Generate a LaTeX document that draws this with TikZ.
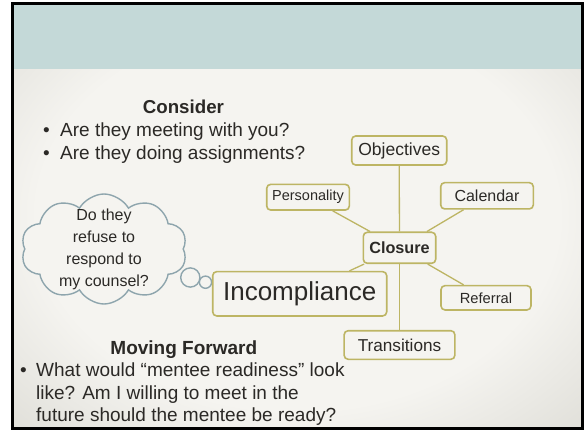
\documentclass[tikz,border=0pt]{standalone}
\usepackage{fontspec}
\usepackage{xcolor}
\usepackage{tikz}
\setmainfont{Liberation Sans}
\usetikzlibrary{shapes.symbols}

\definecolor{headc}{HTML}{C4D9D8}
\definecolor{bodyc}{HTML}{F5F4F0}
\definecolor{edgec}{HTML}{E0DFD9}
\definecolor{olivec}{HTML}{BDB564}
\definecolor{cloudc}{HTML}{8EA5AD}
\definecolor{ink}{HTML}{2B2926}
\pgfdeclareradialshading{vignette}{\pgfpoint{0bp}{0bp}}{color(0bp)=(bodyc); color(23bp)=(bodyc); color(36bp)=(edgec); color(50bp)=(edgec)}

\begin{document}
\begin{tikzpicture}[x=1pt,y=-1pt,
        box/.style={draw=olivec, line width=1.6pt, rounded corners=4pt, fill=bodyc, text=ink, inner sep=0pt},
        link/.style={draw=olivec, line width=1.3pt},
        txt/.style={inner sep=0pt, text=ink, anchor=base west, font=\fontsize{19}{22}\selectfont},
        bubble/.style={draw=cloudc, line width=1.4pt}]
            \useasboundingbox (0,0) rectangle (586,430);
            % slide background, title bar and frame
            \path[shading=vignette] (14,4.7) rectangle (581,427);
            \fill[headc] (14,4.7) rectangle (581,68.7);
            \draw[line width=3pt] (12.5,3.2) rectangle (582.8,428.5);

            % text on the left
            \node[txt, anchor=base, font=\bfseries\fontsize{18.7}{22}\selectfont] (consider) at (183.4,114) {Consider};
            \node[txt] (dot1) at (43,136.7) {\textbullet};
            \node[txt] (ask1) at (60,136.7) {Are they meeting with you?};
            \node[txt] (dot2) at (43,159.3) {\textbullet};
            \node[txt] (ask2) at (60,159.3) {Are they doing assignments?};
            \node[txt, anchor=base, font=\bfseries\fontsize{19}{22}\selectfont] (forward) at (183.8,354) {Moving Forward};
            \node[txt] (dot3) at (20,376.7) {\textbullet};
            \node[txt] (line1) at (36,376.7) {What would “mentee readiness” look};
            \node[txt] (line2) at (36,399.5) {like? Am I willing to meet in the};
            \node[txt] (line3) at (36,421.7) {future should the mentee be ready?};

            % thought cloud
            \node[cloud, cloud puffs=10, cloud puff arc=120, aspect=1.5, bubble, fill=bodyc,
                  minimum width=166pt, minimum height=110pt, inner sep=0pt] (doubt) at (104,249) {};
            \node[inner sep=0pt, align=center, text=ink, font=\fontsize{16}{22}\selectfont] (doubttext) at (doubt.center) {Do they\\refuse to\\respond to\\my counsel?};
            \draw[bubble] (190.3,277.5) circle (9.6);
            \draw[bubble] (205.5,282.2) circle (6.1);
            \draw[bubble] (217,284.5) circle (3);

            % boxes round closure
            \node[box, minimum width=72.4pt, minimum height=31pt, font=\bfseries\fontsize{16.2}{19}\selectfont] (closure) at (399.5,247.8) {Closure};
            \node[box, minimum width=95pt, minimum height=29pt, font=\fontsize{17.5}{20}\selectfont] (objectives) at (399.2,150.5) {Objectives};
            \node[box, minimum width=82.6pt, minimum height=25.7pt, font=\fontsize{14.5}{17}\selectfont] (personality) at (308,197.2) {Personality};
            \node[box, minimum width=92.6pt, minimum height=26.3pt, font=\fontsize{16}{19}\selectfont] (calendar) at (487,195.8) {Calendar};
            \node[box, minimum width=90pt, minimum height=24.3pt, font=\fontsize{14.7}{17}\selectfont] (referral) at (486,297.8) {Referral};
            \node[box, minimum width=110.7pt, minimum height=28.6pt, font=\fontsize{17.2}{20}\selectfont] (transitions) at (399.5,345) {Transitions};
            \node[box, minimum width=174pt, minimum height=44.3pt, font=\fontsize{26}{30}\selectfont] (incompliance) at (299.7,293.8) {Incompliance};

            \draw[link] (closure) -- (objectives);
            \draw[link] (closure) -- (personality);
            \draw[link] (closure) -- (calendar);
            \draw[link] (closure) -- (referral);
            \draw[link] (closure) -- (incompliance);
            \draw[link] (closure) -- (transitions);
        \end{tikzpicture}
\end{document}
